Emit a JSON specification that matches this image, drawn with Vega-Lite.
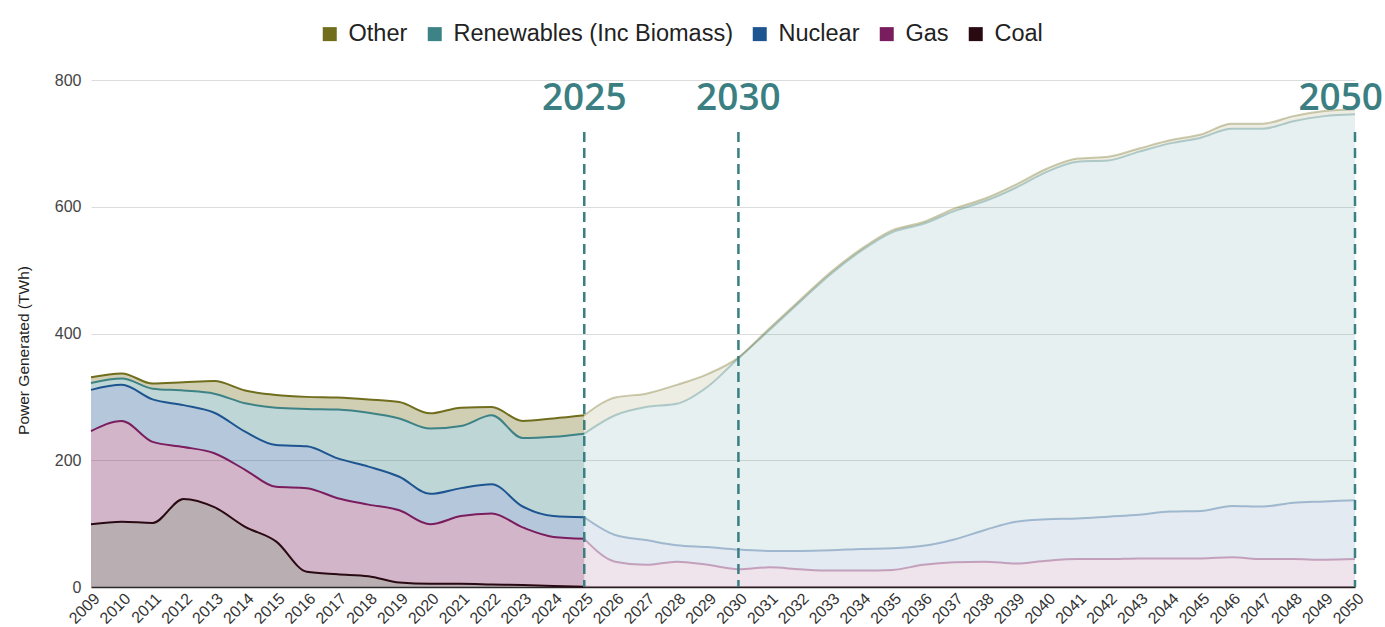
{
  "$schema": "https://vega.github.io/schema/vega-lite/v6.json",
  "width": 1264,
  "height": 507,
  "autosize": {"type": "none"},
  "padding": {"left": 91, "top": 80, "right": 30, "bottom": 40},
  "config": {
    "view": {"stroke": null},
    "font": "Liberation Sans",
    "axis": {"labelOverlap": false},
    "axisX": {"labelAngle": -45, "labelFontSize": 16, "labelColor": "#333", "ticks": false, "grid": false, "domain": true, "domainColor": "#2a2a2a", "domainWidth": 1.5, "labelPadding": 3, "labelOverlap": false, "labelFlush": false, "labelBound": false, "labelSeparation": 0, "title": null},
    "axisY": {"grid": true, "gridColor": "#dcdcdc", "gridWidth": 1, "domain": false, "ticks": false, "labelFontSize": 16, "labelColor": "#444", "labelPadding": 10, "titleFontSize": 15.5, "titleFontWeight": "normal", "titleColor": "#222"}
  },
  "datasets": {
    "energy": [
      {"year": 2009, "period": "hist", "Coal": 99, "Gas": 147, "Nuclear": 65, "Renewables (Inc Biomass)": 11, "Other": 9},
      {"year": 2010, "period": "hist", "Coal": 103, "Gas": 159, "Nuclear": 57, "Renewables (Inc Biomass)": 10, "Other": 8},
      {"year": 2011, "period": "hist", "Coal": 101, "Gas": 128, "Nuclear": 67, "Renewables (Inc Biomass)": 17, "Other": 8},
      {"year": 2012, "period": "hist", "Coal": 139, "Gas": 82, "Nuclear": 66, "Renewables (Inc Biomass)": 23, "Other": 13},
      {"year": 2013, "period": "hist", "Coal": 126, "Gas": 85, "Nuclear": 64, "Renewables (Inc Biomass)": 30, "Other": 20},
      {"year": 2014, "period": "hist", "Coal": 95, "Gas": 90, "Nuclear": 60, "Renewables (Inc Biomass)": 45, "Other": 20},
      {"year": 2015, "period": "hist", "Coal": 72, "Gas": 86, "Nuclear": 66, "Renewables (Inc Biomass)": 59, "Other": 20},
      {"year": 2016, "period": "hist", "Coal": 24, "Gas": 132, "Nuclear": 66, "Renewables (Inc Biomass)": 59, "Other": 19},
      {"year": 2017, "period": "hist", "Coal": 20, "Gas": 120, "Nuclear": 63, "Renewables (Inc Biomass)": 77, "Other": 19},
      {"year": 2018, "period": "hist", "Coal": 17, "Gas": 113, "Nuclear": 60, "Renewables (Inc Biomass)": 85, "Other": 21},
      {"year": 2019, "period": "hist", "Coal": 7, "Gas": 114, "Nuclear": 53, "Renewables (Inc Biomass)": 92, "Other": 26},
      {"year": 2020, "period": "hist", "Coal": 5, "Gas": 94, "Nuclear": 48, "Renewables (Inc Biomass)": 103, "Other": 24},
      {"year": 2021, "period": "hist", "Coal": 5, "Gas": 107, "Nuclear": 44, "Renewables (Inc Biomass)": 98, "Other": 29},
      {"year": 2022, "period": "hist", "Coal": 4, "Gas": 112, "Nuclear": 46, "Renewables (Inc Biomass)": 109, "Other": 13},
      {"year": 2023, "period": "hist", "Coal": 3, "Gas": 91, "Nuclear": 33, "Renewables (Inc Biomass)": 108, "Other": 27},
      {"year": 2024, "period": "hist", "Coal": 1.5, "Gas": 77.5, "Nuclear": 33, "Renewables (Inc Biomass)": 125, "Other": 29},
      {"year": 2025, "period": "hist", "Coal": 0.5, "Gas": 75.5, "Nuclear": 34, "Renewables (Inc Biomass)": 132, "Other": 29},
      {"year": 2025, "period": "proj", "Coal": 0.5, "Gas": 75.5, "Nuclear": 34, "Renewables (Inc Biomass)": 132, "Other": 29},
      {"year": 2026, "period": "proj", "Coal": 0, "Gas": 40, "Nuclear": 42, "Renewables (Inc Biomass)": 189, "Other": 28},
      {"year": 2027, "period": "proj", "Coal": 0, "Gas": 35, "Nuclear": 39, "Renewables (Inc Biomass)": 210, "Other": 21},
      {"year": 2028, "period": "proj", "Coal": 0, "Gas": 40, "Nuclear": 26, "Renewables (Inc Biomass)": 223, "Other": 30},
      {"year": 2029, "period": "proj", "Coal": 0, "Gas": 35, "Nuclear": 28, "Renewables (Inc Biomass)": 253, "Other": 20},
      {"year": 2030, "period": "proj", "Coal": 0, "Gas": 28, "Nuclear": 31, "Renewables (Inc Biomass)": 302, "Other": 1},
      {"year": 2031, "period": "proj", "Coal": 0, "Gas": 31, "Nuclear": 26, "Renewables (Inc Biomass)": 348, "Other": 3},
      {"year": 2032, "period": "proj", "Coal": 0, "Gas": 28, "Nuclear": 29, "Renewables (Inc Biomass)": 393, "Other": 3},
      {"year": 2033, "period": "proj", "Coal": 0, "Gas": 26, "Nuclear": 32, "Renewables (Inc Biomass)": 436, "Other": 3},
      {"year": 2034, "period": "proj", "Coal": 0, "Gas": 26, "Nuclear": 34, "Renewables (Inc Biomass)": 471, "Other": 3},
      {"year": 2035, "period": "proj", "Coal": 0, "Gas": 27, "Nuclear": 34, "Renewables (Inc Biomass)": 499, "Other": 3},
      {"year": 2036, "period": "proj", "Coal": 0, "Gas": 35, "Nuclear": 30, "Renewables (Inc Biomass)": 508, "Other": 3},
      {"year": 2037, "period": "proj", "Coal": 0, "Gas": 39, "Nuclear": 36, "Renewables (Inc Biomass)": 518, "Other": 4},
      {"year": 2038, "period": "proj", "Coal": 0, "Gas": 40, "Nuclear": 50, "Renewables (Inc Biomass)": 519, "Other": 4},
      {"year": 2039, "period": "proj", "Coal": 0, "Gas": 37, "Nuclear": 66, "Renewables (Inc Biomass)": 527, "Other": 5},
      {"year": 2040, "period": "proj", "Coal": 0, "Gas": 41.5, "Nuclear": 65.5, "Renewables (Inc Biomass)": 548, "Other": 5},
      {"year": 2041, "period": "proj", "Coal": 0, "Gas": 44, "Nuclear": 64, "Renewables (Inc Biomass)": 563, "Other": 5},
      {"year": 2042, "period": "proj", "Coal": 0, "Gas": 44, "Nuclear": 67, "Renewables (Inc Biomass)": 562, "Other": 6},
      {"year": 2043, "period": "proj", "Coal": 0, "Gas": 45, "Nuclear": 69, "Renewables (Inc Biomass)": 573, "Other": 5},
      {"year": 2044, "period": "proj", "Coal": 0, "Gas": 45, "Nuclear": 74, "Renewables (Inc Biomass)": 581, "Other": 5},
      {"year": 2045, "period": "proj", "Coal": 0, "Gas": 45, "Nuclear": 75, "Renewables (Inc Biomass)": 589, "Other": 5},
      {"year": 2046, "period": "proj", "Coal": 0, "Gas": 47, "Nuclear": 81, "Renewables (Inc Biomass)": 595, "Other": 8},
      {"year": 2047, "period": "proj", "Coal": 0, "Gas": 44, "Nuclear": 83, "Renewables (Inc Biomass)": 596, "Other": 8},
      {"year": 2048, "period": "proj", "Coal": 0, "Gas": 44, "Nuclear": 89, "Renewables (Inc Biomass)": 602, "Other": 8},
      {"year": 2049, "period": "proj", "Coal": 0, "Gas": 43, "Nuclear": 92, "Renewables (Inc Biomass)": 608, "Other": 8},
      {"year": 2050, "period": "proj", "Coal": 0, "Gas": 44, "Nuclear": 93, "Renewables (Inc Biomass)": 609, "Other": 8}
    ],
    "markers": [
      {"year": 2025, "label": "2025"},
      {"year": 2030, "label": "2030"},
      {"year": 2050, "label": "2050"}
    ]
  },
  "encoding": {
    "x": {
      "field": "year", "type": "quantitative",
      "scale": {"domain": [2009, 2050], "nice": false, "zero": false},
      "axis": {
        "values": [2009,2010,2011,2012,2013,2014,2015,2016,2017,2018,2019,2020,2021,2022,2023,2024,2025,2026,2027,2028,2029,2030,2031,2032,2033,2034,2035,2036,2037,2038,2039,2040,2041,2042,2043,2044,2045,2046,2047,2048,2049,2050],
        "format": "d", "labelOverlap": false, "labelFontSize": 16, "labelAngle": -45, "labelSeparation": 0
      }
    }
  },
  "layer": [
    {
      "data": {"name": "energy"},
      "transform": [
        {"fold": ["Coal", "Gas", "Nuclear", "Renewables (Inc Biomass)", "Other"], "as": ["source", "value"]},
        {"calculate": "indexof(['Coal','Gas','Nuclear','Renewables (Inc Biomass)','Other'], datum.source)", "as": "ord"},
        {"stack": "value", "groupby": ["year", "period"], "sort": [{"field": "ord", "order": "ascending"}], "as": ["v0", "v1"]}
      ],
      "encoding": {
        "y": {
          "field": "v1", "type": "quantitative",
          "scale": {"domain": [0, 800], "nice": false},
          "axis": {
            "values": [0, 200, 400, 600, 800],
            "title": "Power Generated (TWh)",
            "titleY": 270, "titleX": -68, "titleAngle": -90, "titleAlign": "center", "titleBaseline": "middle"
          }
        }
      },
      "layer": [
        {
          "transform": [{"filter": "datum.period === 'hist'"}],
          "mark": {"type": "area", "interpolate": "monotone", "fillOpacity": 0.33},
          "encoding": {
            "y2": {"field": "v0"},
            "color": {
              "field": "source", "type": "nominal",
              "scale": {"domain": ["Other", "Renewables (Inc Biomass)", "Nuclear", "Gas", "Coal"], "range": ["#706d1c", "#3d8285", "#1d5590", "#7a1d5e", "#2a0a12"]},
              "legend": {
                "orient": "none", "direction": "horizontal", "legendX": 227, "legendY": -58,
                "title": null, "symbolType": "square", "symbolSize": 196, "symbolOpacity": 1, "symbolStrokeWidth": 0,
                "labelFontSize": 23.5, "labelColor": "#222", "labelOffset": 7, "columnPadding": 15, "labelLimit": 0
              }
            }
          }
        },
        {
          "transform": [{"filter": "datum.period === 'hist'"}],
          "mark": {"type": "line", "interpolate": "monotone", "strokeWidth": 2},
          "encoding": {
            "color": {"field": "source", "type": "nominal", "legend": null}
          }
        },
        {
          "transform": [{"filter": "datum.period === 'proj'"}],
          "mark": {"type": "area", "interpolate": "monotone", "fillOpacity": 0.12},
          "encoding": {
            "y2": {"field": "v0"},
            "color": {"field": "source", "type": "nominal", "legend": null}
          }
        },
        {
          "transform": [{"filter": "datum.period === 'proj'"}],
          "mark": {"type": "line", "interpolate": "monotone", "strokeWidth": 2, "strokeOpacity": 0.35},
          "encoding": {
            "color": {"field": "source", "type": "nominal", "legend": null}
          }
        }
      ]
    },
    {
      "data": {"name": "markers"},
      "mark": {"type": "rule", "color": "#3a7f82", "strokeWidth": 2.5, "strokeDash": [10, 6]},
      "encoding": {
        "y": {"datum": 718},
        "y2": {"datum": 0}
      }
    },
    {
      "data": {"name": "markers"},
      "transform": [{"filter": "datum.year < 2050"}],
      "mark": {"type": "text", "font": "Open Sans", "fontWeight": 600, "fontSize": 37, "color": "#3b7f83", "align": "center", "baseline": "alphabetic"},
      "encoding": {
        "y": {"datum": 752},
        "text": {"field": "label"}
      }
    },
    {
      "data": {"name": "markers"},
      "transform": [{"filter": "datum.year === 2050"}],
      "mark": {"type": "text", "font": "Open Sans", "fontWeight": 600, "fontSize": 37, "color": "#3b7f83", "align": "right", "baseline": "alphabetic", "dx": 28},
      "encoding": {
        "y": {"datum": 752},
        "text": {"field": "label"}
      }
    }
  ]
}
